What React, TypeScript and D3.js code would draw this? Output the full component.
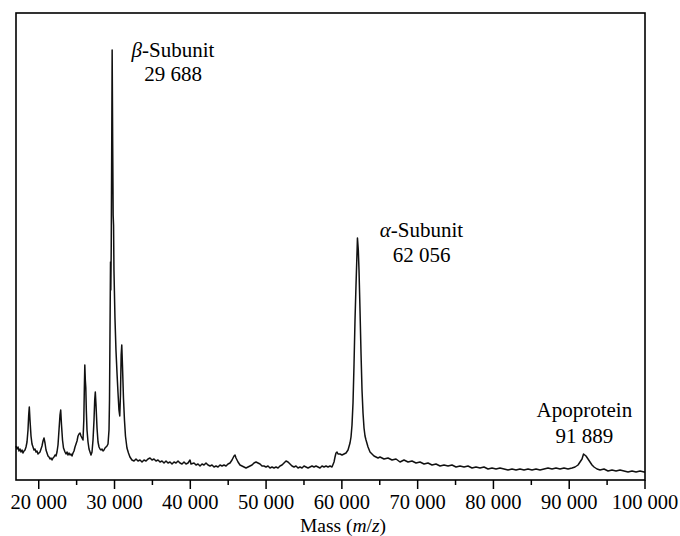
import React from "react";
import * as d3 from "d3";

// ---- Data (intensity in arbitrary units) ----
const massValues: number[] = [
  17000, 17132, 17264, 17396, 17528, 17660, 17792, 17924, 18056, 18188, 18320, 18452, 18584, 18676, 18755, 18847, 18979,
  19111, 19243, 19375, 19507, 19639, 19771, 19903, 20035, 20167, 20299, 20431, 20563, 20695, 20827, 20959, 21091, 21223,
  21355, 21487, 21619, 21751, 21883, 22015, 22146, 22278, 22410, 22542, 22674, 22806, 22899, 23005, 23137, 23268, 23466,
  23598, 23730, 23862, 23994, 24126, 24258, 24390, 24522, 24654, 24786, 24918, 25050, 25182, 25314, 25446, 25578, 25710,
  25842, 25948, 26014, 26080, 26146, 26212, 26278, 26370, 26502, 26634, 26766, 26898, 27030, 27162, 27294, 27386, 27465,
  27558, 27690, 27822, 27954, 28085, 28217, 28349, 28481, 28613, 28745, 28877, 29009, 29141, 29273, 29339, 29405, 29471,
  29511, 29564, 29630, 29688, 29754, 29820, 29873, 29926, 30058, 30190, 30322, 30454, 30586, 30692, 30784, 30877, 30956,
  31048, 31180, 31312, 31444, 31642, 31840, 32034, 32298,
  32571, 32835, 33099, 33363, 33627, 33891, 34155, 34419, 34683, 34947, 35210, 35474, 35738, 36002, 36266, 36530, 36794,
  37058, 37322, 37586, 37850, 38114, 38378, 38641, 38905, 39169, 39433, 39697, 39961, 40093, 40489, 40753, 41017, 41281,
  41545, 41808, 42072, 42336, 42600, 42864, 43128, 43392, 43656, 43920, 44184, 44448, 44712, 44976, 45239, 45503, 45767,
  45899, 46031, 46295, 46559, 46823, 47087, 47351, 47615, 47879, 48143, 48406, 48670, 48934, 49198, 49462, 49726, 49990,
  50254, 50518, 50782, 51046, 51310, 51573, 51837, 52101, 52365, 52629, 52893, 53157, 53421, 53685, 53949, 54213, 54477,
  54741, 55004, 55268, 55532, 55796, 56060, 56324, 56588, 56852, 57116, 57380, 57644, 57908, 58172, 58435, 58699, 58963,
  59095, 59227, 59359, 59491, 59755, 60019, 60283, 60547, 60811, 61074, 61206, 61338, 61470, 61602, 61734, 61866, 61998,
  62056, 62170, 62262, 62394, 62526, 62658, 62790, 62922, 63054, 63186, 63450, 63714, 63978, 64242, 64506, 64770, 65033,
  65561, 66089, 66617, 67145, 67673, 68200, 68728, 69256, 69784, 70312, 70840, 71368, 71895, 72423, 72951, 73479, 74007,
  74535, 75062, 75590, 76118, 76646, 77174, 77702, 78229, 78757, 79285, 79813, 80341, 80869, 81396, 81924, 82452, 82980,
  83508, 84036, 84564, 85091, 85619, 86147, 86675, 87203, 87731, 88258, 88786, 89314, 89842, 90370, 90766, 91162, 91425,
  91689, 91889, 92217, 92481, 92745, 93009, 93273, 93669, 94066, 94594, 95122, 95650, 96178, 96706, 97234, 97762, 98290,
  98818, 99346, 99874, 100000,
];

const intensityValues: number[] = [
  34, 31, 33, 29, 31, 28, 30, 27, 29, 30, 33, 38, 50, 65, 73, 60, 44,
  36, 33, 30, 31, 28, 29, 26, 27, 28, 31, 34, 39, 42, 37, 30, 27, 24,
  23, 21, 22, 20, 22, 23, 25, 24, 28, 35, 50, 65, 70, 55, 40, 32, 28,
  26, 28, 25, 27, 25, 26, 24, 27, 29, 33, 36, 39, 44, 46, 47, 44, 42,
  40, 60, 90, 115, 100, 92, 70, 50, 38, 31, 28, 25, 28, 40, 60, 80, 88,
  75, 52, 38, 33, 31, 30, 31, 29, 30, 32, 33, 34, 36, 50, 80, 150, 218,
  190, 230, 330, 430, 340, 265, 255, 210, 162, 130, 108, 88, 70, 64, 85, 125, 135,
  115, 82, 60, 44, 32, 27, 23, 20,
  19, 21, 19, 20, 18, 20, 19, 21, 22, 20, 21, 19, 20, 18, 19, 17, 19,
  17, 18, 16, 18, 17, 19, 17, 16, 18, 16, 17, 20, 16, 17, 15, 16, 14,
  16, 15, 17, 15, 14, 15, 13, 14, 13, 15, 14, 15, 14, 16, 17, 20, 24,
  25, 22, 18, 15, 14, 13, 12, 13, 14, 15, 17, 18, 17, 16, 14, 14, 13,
  14, 12, 13, 12, 13, 12, 14, 15, 17, 19, 18, 16, 14, 13, 14, 12, 13,
  12, 14, 13, 12, 13, 14, 13, 14, 13, 12, 14, 13, 14, 13, 14, 13, 18,
  23, 27, 28, 26, 26, 25, 26, 27, 30, 37, 43, 55, 77, 115, 160, 195, 227,
  242, 230, 210, 170, 127, 90, 67, 52, 44, 40, 33, 28, 26, 24, 23, 22, 23,
  21, 22, 20, 21, 18, 20, 18, 19, 17, 18, 16, 17, 15, 16, 14, 15, 14,
  15, 13, 14, 13, 14, 12, 13, 12, 13, 11, 12, 11, 12, 11, 10, 11, 10,
  11, 10, 11, 10, 11, 10, 11, 12, 11, 12, 11, 12, 11, 12, 13, 15, 18,
  21, 26, 24, 21, 18, 15, 13, 11, 10, 11, 9, 10, 9, 10, 9, 8, 9,
  8, 9, 8, 8,
];

const majorTicks: number[] = [20000, 30000, 40000, 50000, 60000, 70000, 80000, 90000, 100000];
const minorTicks: number[] = [25000, 35000, 45000, 55000, 65000, 75000, 85000, 95000];

const annotationNames: string[] = ["β", "α", ""];
const annotationLabels: string[] = ["-Subunit", "-Subunit", "Apoprotein"];
const annotationMasses: string[] = ["29 688", "62 056", "91 889"];

const W = 680;
const H = 536;
const M = { left: 16, right: 35, top: 13, bottom: 56 };

const xScale = d3.scaleLinear().domain([17000, 100000]).range([M.left, W - M.right]);
const yScale = d3.scaleLinear().domain([0, 467]).range([H - M.bottom, M.top]);

const fmt = d3.formatLocale({ decimal: ".", thousands: " ", grouping: [3], currency: ["", ""] }).format(",");

const FONT = "'Liberation Serif', 'Times New Roman', serif";

// annotation placement: text centres expressed on the mass axis
const annotationAnchors: { x: number; y1: number; y2: number }[] = [
  { x: xScale(37720), y1: 57, y2: 81 },
  { x: xScale(70510), y1: 237, y2: 262 },
  { x: xScale(92000), y1: 417, y2: 443 },
];

export default function App() {
  const pts: [number, number][] = massValues.map((m, i) => [m, intensityValues[i]]);
  const line = d3
    .line<[number, number]>()
    .x((d) => xScale(d[0]))
    .y((d) => yScale(d[1]));

  const x0 = xScale.range()[0];
  const x1 = xScale.range()[1];
  const yb = yScale.range()[0];
  const yt = yScale.range()[1];

  return (
    <svg
      width={W}
      height={H}
      style={{ position: "absolute", left: 0, top: 0, background: "#fff" }}
      fontFamily={FONT}
    >
      <rect x={0} y={0} width={W} height={H} fill="#fff" />
      <path d={line(pts) || ""} fill="none" stroke="#111" strokeWidth={1.5} strokeLinejoin="round" />
      <rect x={x0} y={yt} width={x1 - x0} height={yb - yt} fill="none" stroke="#000" strokeWidth={1.6} />
      {majorTicks.map((t) => (
        <g key={"M" + t}>
          <line x1={xScale(t)} x2={xScale(t)} y1={yb} y2={yb + 9} stroke="#000" strokeWidth={1.5} />
          <text x={xScale(t)} y={509} textAnchor="middle" fontSize={20.5} fill="#000">
            {fmt(t)}
          </text>
        </g>
      ))}
      {minorTicks.map((t) => (
        <line key={"m" + t} x1={xScale(t)} x2={xScale(t)} y1={yb} y2={yb + 5} stroke="#000" strokeWidth={1.5} />
      ))}
      <text x={343} y={531.5} textAnchor="middle" fontSize={19.5} fill="#000">
        Mass (<tspan fontStyle="italic">m</tspan>/<tspan fontStyle="italic">z</tspan>)
      </text>
      {annotationLabels.map((lab, i) => (
        <g key={"a" + i}>
          <text x={annotationAnchors[i].x} y={annotationAnchors[i].y1} textAnchor="middle" fontSize={21} fill="#000">
            {annotationNames[i] ? <tspan fontStyle="italic">{annotationNames[i]}</tspan> : null}
            {lab}
          </text>
          <text x={annotationAnchors[i].x} y={annotationAnchors[i].y2} textAnchor="middle" fontSize={21} fill="#000">
            {annotationMasses[i]}
          </text>
        </g>
      ))}
    </svg>
  );
}
